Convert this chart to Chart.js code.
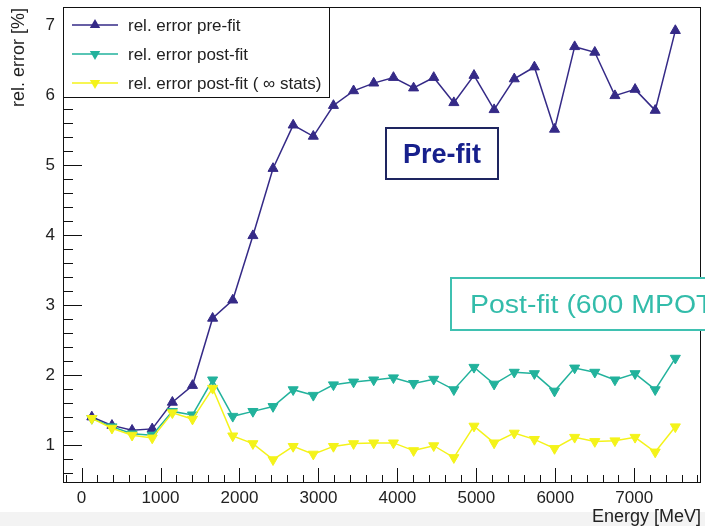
<!DOCTYPE html>
<html lang="en">
<head>
<meta charset="UTF-8">
<title>rel. error vs energy</title>
<script src="https://cdn.jsdelivr.net/npm/chart.js"></script>
<style>
  body { margin: 0; background: #fff; }
  canvas { display: block; }
</style>
</head>
<body>
<canvas id="errChart" width="705" height="526"></canvas>
<script>
// energy bin centres [MeV]
const energy = [130, 385, 640, 895, 1150, 1405, 1660, 1915, 2170, 2425, 2680, 2935, 3190, 3445, 3700,
                3950, 4205, 4460, 4715, 4970, 5225, 5480, 5735, 5990, 6245, 6500, 6755, 7010, 7265, 7520];
// relative errors [%]
const preFit = [1.40, 1.28, 1.21, 1.23, 1.61, 1.85, 2.81, 3.07, 3.99, 4.95, 5.57, 5.41, 5.85, 6.06, 6.17,
                6.25, 6.10, 6.25, 5.89, 6.28, 5.79, 6.23, 6.40, 5.51, 6.69, 6.61, 5.99, 6.08, 5.78, 6.92];
const postFit = [1.38, 1.26, 1.16, 1.14, 1.48, 1.43, 1.93, 1.41, 1.48, 1.55, 1.79, 1.71, 1.86, 1.90, 1.93,
                 1.96, 1.88, 1.94, 1.79, 2.11, 1.87, 2.04, 2.02, 1.77, 2.10, 2.04, 1.93, 2.02, 1.79, 2.24];
const infStats = [1.38, 1.24, 1.14, 1.10, 1.46, 1.37, 1.81, 1.13, 1.02, 0.79, 0.98, 0.87, 0.98, 1.02, 1.03,
                  1.03, 0.92, 0.99, 0.82, 1.27, 1.03, 1.17, 1.08, 0.95, 1.11, 1.05, 1.06, 1.11, 0.90, 1.26];
const seriesNames = ['rel. error pre-fit', 'rel. error post-fit', 'rel. error post-fit ( \u221E stats)'];
const xTicks = [0, 1000, 2000, 3000, 4000, 5000, 6000, 7000];
const yTicks = [1, 2, 3, 4, 5, 6, 7];

const NAVY = '#352a87', TEAL = '#22b29c', YELLOW = '#f4f31a';
const FONT = 'Liberation Sans, Arial, sans-serif';

function pts(ys) { return ys.map((y, i) => ({ x: energy[i], y: y })); }

function tri(ctx, x, y, r, down) {
  const s = down ? -1 : 1;
  ctx.beginPath();
  ctx.moveTo(x, y - s * r);
  ctx.lineTo(x + r * 0.866, y + s * r * 0.5);
  ctx.lineTo(x - r * 0.866, y + s * r * 0.5);
  ctx.closePath();
  ctx.fill();
}

// frame, inward ticks, titles, legend and the two text boxes
const decor = {
  id: 'decor',
  beforeDraw(chart) {
    const ctx = chart.ctx;
    ctx.save();
    ctx.fillStyle = '#fff';
    ctx.fillRect(0, 0, chart.width, chart.height);
    ctx.fillStyle = '#f3f3f3';
    ctx.fillRect(0, 512, chart.width, chart.height - 512);
    ctx.restore();
  },
  afterDraw(chart) {
    const ctx = chart.ctx;
    const a = chart.chartArea;
    const xs = chart.scales.x, ys = chart.scales.y;
    ctx.save();
    ctx.strokeStyle = '#111';
    ctx.lineWidth = 1;
    ctx.beginPath();
    // x ticks
    for (let v = -200; v <= 7800; v += 200) {
      const px = Math.round(xs.getPixelForValue(v)) + 0.5;
      const len = v % 1000 === 0 ? 15 : 8;
      ctx.moveTo(px, a.bottom);
      ctx.lineTo(px, a.bottom - len);
    }
    // y ticks
    for (let k = 3; k <= 36; k++) {
      const v = k * 0.2;
      const py = Math.round(ys.getPixelForValue(v)) + 0.5;
      const len = k % 5 === 0 ? 19 : 10;
      ctx.moveTo(a.left, py);
      ctx.lineTo(a.left + len, py);
    }
    ctx.stroke();
    ctx.strokeRect(a.left + 0.5, a.top + 0.5, a.right - a.left - 1, a.bottom - a.top - 1);

    // axis titles
    ctx.fillStyle = '#222';
    ctx.font = '18px ' + FONT;
    ctx.textAlign = 'right';
    ctx.textBaseline = 'alphabetic';
    ctx.fillText('Energy [MeV]', a.right, 522);
    ctx.save();
    ctx.translate(24, 8);
    ctx.rotate(-Math.PI / 2);
    ctx.fillText('rel. error [%]', 0, 0);
    ctx.restore();

    // legend
    ctx.fillStyle = '#fff';
    ctx.fillRect(a.left, a.top, 266, 90);
    ctx.strokeStyle = '#111';
    ctx.strokeRect(a.left + 0.5, a.top + 0.5, 266, 90);
    const cols = [NAVY, TEAL, YELLOW];
    const rowY = [25, 54, 83];
    for (let i = 0; i < 3; i++) {
      ctx.strokeStyle = cols[i];
      ctx.fillStyle = cols[i];
      ctx.lineWidth = 1.5;
      ctx.beginPath();
      ctx.moveTo(72, rowY[i]);
      ctx.lineTo(118, rowY[i]);
      ctx.stroke();
      tri(ctx, 95, rowY[i], 6, i > 0);
      ctx.fillStyle = '#222';
      ctx.font = '17px ' + FONT;
      ctx.textAlign = 'left';
      ctx.textBaseline = 'middle';
      ctx.fillText(seriesNames[i], 128, rowY[i] + 1);
    }

    // "Pre-fit" box
    ctx.fillStyle = '#fff';
    ctx.fillRect(386, 128, 112, 51);
    ctx.strokeStyle = '#1e2560';
    ctx.lineWidth = 2;
    ctx.strokeRect(386, 128, 112, 51);
    ctx.fillStyle = '#17208c';
    ctx.font = 'bold 27px ' + FONT;
    ctx.textAlign = 'left';
    ctx.textBaseline = 'alphabetic';
    const pw = ctx.measureText('Pre-fit').width;
    ctx.save();
    ctx.translate(403, 163);
    ctx.scale(78 / pw, 1);
    ctx.fillText('Pre-fit', 0, 0);
    ctx.restore();

    // "Post-fit" box, running off the right edge
    ctx.fillStyle = '#fff';
    ctx.fillRect(451, 278, 320, 52);
    ctx.strokeStyle = '#3fc1b1';
    ctx.strokeRect(451, 278, 320, 52);
    ctx.fillStyle = '#33bcaa';
    ctx.font = '26px ' + FONT;
    const w = ctx.measureText('Post-fit (600 MPO').width;
    ctx.save();
    ctx.translate(470, 313);
    ctx.scale(226 / w, 1);
    ctx.fillText('Post-fit (600 MPOT)', 0, 0);
    ctx.restore();
    ctx.restore();
  }
};

function ds(label, ys, col, down, order) {
  return {
    label: label,
    data: pts(ys),
    borderColor: col,
    backgroundColor: col,
    borderWidth: 1.5,
    pointStyle: 'triangle',
    rotation: down ? 180 : 0,
    pointRadius: 5.8,
    pointBorderWidth: 1,
    pointHoverRadius: 5.8,
    tension: 0,
    order: order
  };
}

new Chart(document.getElementById('errChart').getContext('2d'), {
  type: 'line',
  data: {
    datasets: [
      ds(seriesNames[0], preFit, NAVY, false, 3),
      ds(seriesNames[1], postFit, TEAL, true, 2),
      ds(seriesNames[2], infStats, YELLOW, true, 1)
    ]
  },
  options: {
    responsive: false,
    animation: false,
    devicePixelRatio: 1,
    layout: { autoPadding: false, padding: { top: 7, right: 4, left: 0, bottom: 0 } },
    plugins: { legend: { display: false }, tooltip: { enabled: false } },
    scales: {
      x: {
        type: 'linear',
        min: -235,
        max: 7845,
        grid: { display: false, drawTicks: false },
        border: { display: false },
        ticks: { font: { size: 17, family: FONT }, color: '#222', padding: 5, autoSkip: false, maxRotation: 0,
                 callback: v => String(v) },
        afterBuildTicks: s => { s.ticks = xTicks.map(v => ({ value: v })); },
        afterFit: s => { s.height = 43; s.paddingLeft = 0; s.paddingRight = 0; }
      },
      y: {
        min: 0.457,
        max: 7.257,
        grid: { display: false, drawTicks: false },
        border: { display: false },
        ticks: { font: { size: 17, family: FONT }, color: '#222', padding: 8, autoSkip: false,
                 callback: v => String(v) },
        afterBuildTicks: s => { s.ticks = yTicks.map(v => ({ value: v })); },
        afterFit: s => { s.width = 63; s.paddingTop = 0; s.paddingBottom = 0; }
      }
    }
  },
  plugins: [decor]
});
</script>
</body>
</html>
